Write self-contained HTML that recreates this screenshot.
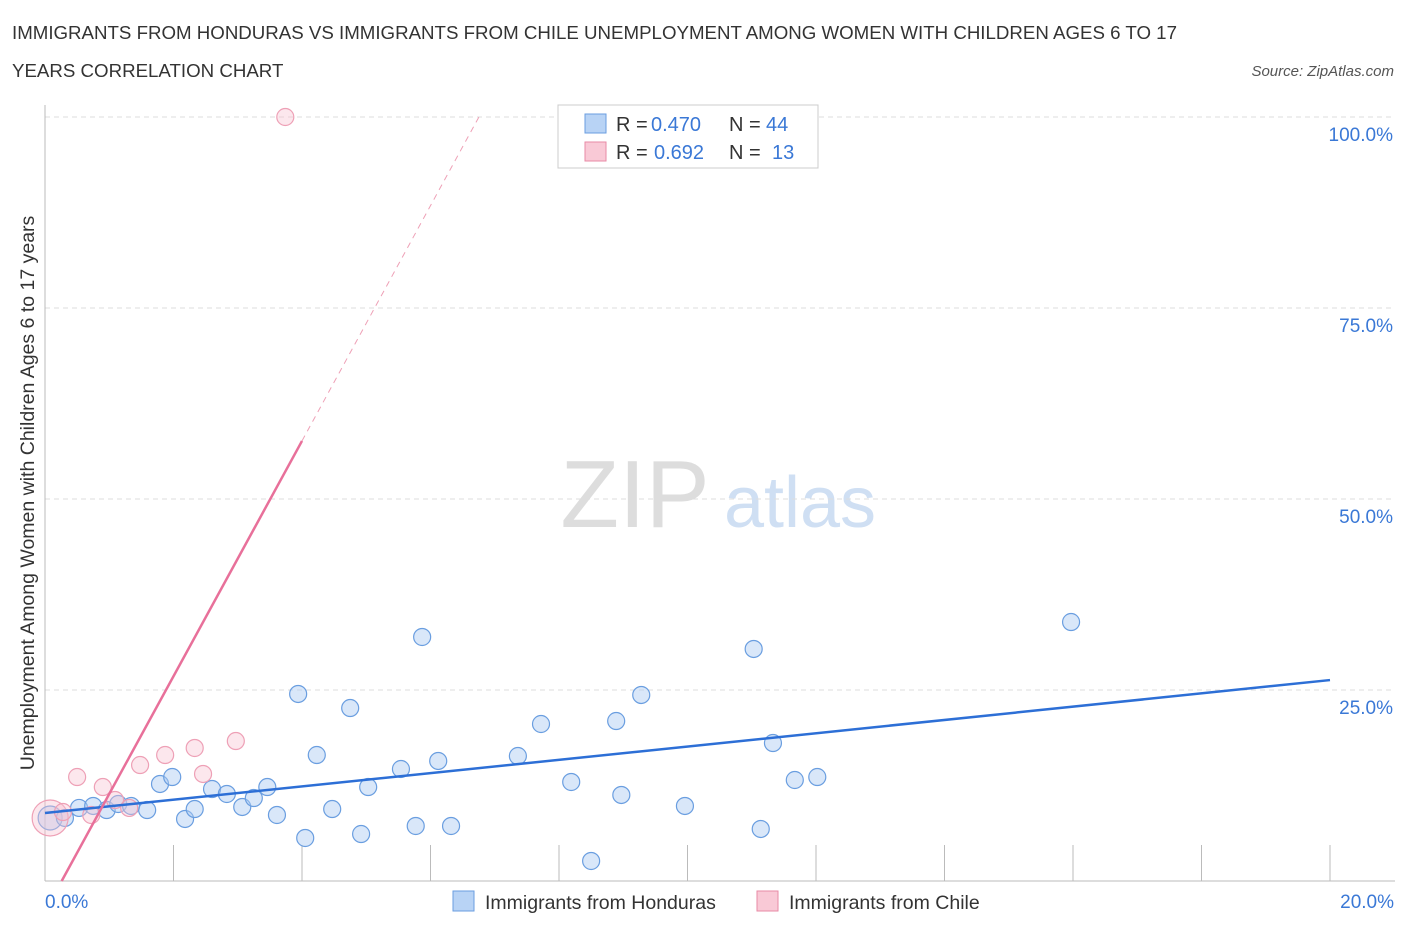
<!DOCTYPE html>
<html><head><meta charset="utf-8"><style>
body{margin:0;background:#fff;font-family:"Liberation Sans",sans-serif}
svg text{font-family:"Liberation Sans",sans-serif}
</style></head><body>
<svg id="chart" width="1406" height="930">
<text x="12" y="39" font-size="18.7" fill="#333">IMMIGRANTS FROM HONDURAS VS IMMIGRANTS FROM CHILE UNEMPLOYMENT AMONG WOMEN WITH CHILDREN AGES 6 TO 17</text>
<text x="12" y="77" font-size="18.7" fill="#333">YEARS CORRELATION CHART</text>
<text x="1394" y="76" font-size="15" fill="#555" font-style="italic" text-anchor="end">Source: ZipAtlas.com</text>
<text x="635" y="527" font-size="96" fill="#ddd" font-family="Liberation Serif" text-anchor="middle">ZIP</text>
<text x="800" y="527" font-size="72" fill="#cfdff3" text-anchor="middle">atlas</text>
<g id="grid"></g>
<g id="axes"></g>
<g id="marks"></g>
<text transform="translate(34,493) rotate(-90)" font-size="19.5" fill="#333" text-anchor="middle">Unemployment Among Women with Children Ages 6 to 17 years</text>
<g>
<rect x="558" y="105" width="260" height="63" fill="#fff" stroke="#ccc"/>
<rect x="585" y="114" width="21" height="19" fill="#b8d3f5" stroke="#6a9ee0"/>
<text x="616" y="131" font-size="20" fill="#333">R =</text>
<text x="651" y="131" font-size="20" fill="#3a78d6">0.470</text>
<text x="729" y="131" font-size="20" fill="#333">N =</text>
<text x="766" y="131" font-size="20" fill="#3a78d6">44</text>
<rect x="585" y="142" width="21" height="19" fill="#f9c9d6" stroke="#e88aa6"/>
<text x="616" y="159" font-size="20" fill="#333">R =</text>
<text x="654" y="159" font-size="20" fill="#3a78d6">0.692</text>
<text x="729" y="159" font-size="20" fill="#333">N =</text>
<text x="772" y="159" font-size="20" fill="#3a78d6">13</text>
</g>
<g>
<rect x="453" y="891" width="21" height="20" fill="#b8d3f5" stroke="#6a9ee0"/>
<text x="485" y="909" font-size="19.5" fill="#333">Immigrants from Honduras</text>
<rect x="757" y="891" width="21" height="20" fill="#f9c9d6" stroke="#e88aa6"/>
<text x="789" y="909" font-size="19.5" fill="#333">Immigrants from Chile</text>
</g>
</svg>
<script>
const yTicks=[25,50,75,100];
const yTickLabels=["25.0%","50.0%","75.0%","100.0%"];
const xTickLabels=["0.0%","20.0%"];
const hondurasX=[0.08,0.31,0.53,0.75,0.96,1.14,1.34,1.59,1.79,1.98,2.18,2.33,2.60,2.83,3.07,3.25,3.46,3.61,3.94,4.05,4.23,4.47,4.75,4.92,5.03,5.54,5.77,5.87,6.12,6.32,7.36,7.72,8.19,8.50,8.89,8.97,9.28,9.96,11.03,11.14,11.33,11.67,12.02,15.97];
const hondurasY=[8.25,8.25,9.56,9.82,9.29,10.08,9.82,9.29,12.70,13.61,8.12,9.42,12.04,11.39,9.69,10.86,12.30,8.64,24.48,5.63,16.49,9.42,22.64,6.15,12.30,14.66,7.20,31.94,15.71,7.20,16.36,20.55,12.96,2.62,20.94,11.26,24.35,9.82,30.37,6.81,18.06,13.22,13.61,33.90];
const chileX=[0.08,0.28,0.50,0.72,0.90,1.09,1.31,1.48,1.87,2.33,2.46,2.97,3.74];
const chileY=[8.25,9.03,13.61,8.64,12.30,10.60,9.56,15.18,16.49,17.41,14.01,18.32,100];
const hondurasTrend=[8.9,26.3];
const chileTrend=[-4.0,15.4];
const X=v=>45+v*64.25, Y=v=>881-v*7.64;
const NS="http://www.w3.org/2000/svg";
function mk(parent,tag,attrs){const e=document.createElementNS(NS,tag);for(const k in attrs)e.setAttribute(k,attrs[k]);document.getElementById(parent).appendChild(e);return e;}
yTicks.forEach((t,i)=>{
 const l=mk('grid','line',{x1:45,x2:1395,y1:Y(t),y2:Y(t),stroke:'#ddd','stroke-dasharray':'5,4'});
 
 
 const tx=mk('grid','text',{x:1393,y:Y(t)+24,'font-size':19,fill:'#3a78d6','text-anchor':'end'});
 tx.textContent=yTickLabels[i];
 
 
});
let a=mk('axes','line',{x1:45,x2:1395,y1:881,y2:881,stroke:'#bbb'});


a=mk('axes','line',{x1:45,x2:45,y1:105,y2:881,stroke:'#bbb'});


for(let i=1;i<=10;i++){const t=mk('axes','line',{x1:X(i*2),x2:X(i*2),y1:845,y2:881,stroke:'#bbb'});
 
 }
[[0,'start',45],[20,'end',1394]].forEach((d,i)=>{const t=mk('axes','text',{x:d[2],y:908,'font-size':19,fill:'#3a78d6','text-anchor':d[1]});t.textContent=xTickLabels[i];
 
 });
hondurasX.forEach((x,i)=>{const c=mk('marks','circle',{cx:X(x),cy:Y(hondurasY[i]),r:i==0?12:8.5,fill:'rgba(170,202,242,0.45)',stroke:'#6a9ee0','stroke-width':1.2});
 
 });
chileX.forEach((x,i)=>{const c=mk('marks','circle',{cx:X(x),cy:Y(chileY[i]),r:i==0?18:8.5,fill:'rgba(248,195,210,0.4)',stroke:'#eea0b6','stroke-width':1.2});
 
 });
let l=mk('marks','line',{x1:X(0),y1:Y(hondurasTrend[0]),x2:X(20),y2:Y(hondurasTrend[1]),stroke:'#2d6fd6','stroke-width':2.5});


const cy=x=>chileTrend[0]+chileTrend[1]*x;
const x0=-chileTrend[0]/chileTrend[1], x1=4.0, x2=(100-chileTrend[0])/chileTrend[1];
l=mk('marks','line',{x1:X(x0),y1:Y(0),x2:X(x1),y2:Y(cy(x1)),stroke:'#e8709a','stroke-width':2.5});


l=mk('marks','line',{x1:X(x1),y1:Y(cy(x1)),x2:X(x2),y2:Y(100),stroke:'#eea0b6','stroke-width':1,'stroke-dasharray':'6,5'});


</script>
</body></html>
